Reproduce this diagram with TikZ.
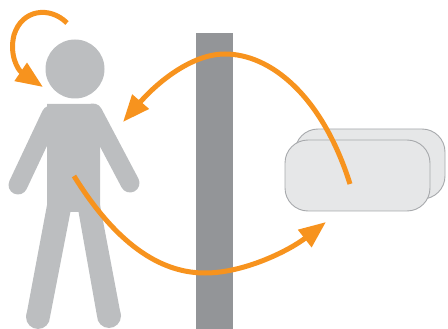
\documentclass[tikz,border=0pt]{standalone}
\usepackage{tikz}
\usetikzlibrary{
    arrows.meta,
    positioning
}

\definecolor{figgray}{HTML}{BCBEC0}
\definecolor{bargray}{HTML}{939598}
\definecolor{panelfill}{HTML}{E6E7E8}
\definecolor{paneledge}{HTML}{A7A9AC}
\definecolor{flow}{HTML}{F7931E}

\begin{document}
\begin{tikzpicture}[
    x=1pt,
    y=-1pt,
    >={Triangle[length=27pt,width=21pt]},
    figure/.style={fill=figgray, draw=none},
    limb/.style={draw=figgray, line cap=round},
    panel/.style={
        draw=paneledge,
        fill=panelfill,
        line width=0.9pt,
        rounded corners=23pt,
        inner sep=0pt
    },
    arrow/.style={->, draw=flow, line width=5pt}
]

\useasboundingbox (0,0) rectangle (448,329);

% ============================================================
% WALL AND HEADSET
% ============================================================

\node[fill=bargray, inner sep=0pt, minimum width=37pt, minimum height=296pt] (wall) at (214.5,181.5) {};

\node[panel, minimum width=150pt, minimum height=70pt] (back) at (370,164) {};
\node[panel, minimum width=145pt, minimum height=71pt] (front) at (357.5,175.5) {};

% ============================================================
% PERSON
% ============================================================

\node[figure, circle, inner sep=0pt, minimum size=59pt] (head) at (75,69) {};

\fill[figure] (47,104) -- (92,104) -- (100,112) -- (100,212) -- (47,212) -- cycle;
\draw[limb, line width=19pt] (51,115) -- (18,185);
\draw[limb, line width=19pt] (93,113) -- (130,183);
\fill[figure] (47,205) -- (71,209) -- (50,317) -- (26,317) -- cycle;
\fill[figure] (78,209) -- (100,205) -- (121,316) -- (97,316) -- cycle;
\fill[figure] (47,200) rectangle (100,209);
\fill[figure] (38,317) circle (12);
\fill[figure] (109,316) circle (12);

% ============================================================
% ARROWS
% ============================================================

\coordinate (spinstart) at (67,23);
\coordinate (spintip) at (43,87);
\coordinate (backstart) at (350,184);
\coordinate (backtip) at (123,122);
\coordinate (outstart) at (74,176);
\coordinate (outtip) at (326,222);

\draw[arrow] (spinstart) .. controls (50,6) and (22,9) .. (14,35)
    .. controls (9,55) and (18,70) .. (spintip);
\draw[arrow] (backstart) .. controls (322,95) and (270,54) .. (225,54)
    .. controls (190,54) and (155,85) .. (backtip);
\draw[arrow] (outstart) .. controls (120,250) and (165,273) .. (205,273)
    .. controls (245,273) and (290,250) .. (outtip);

\end{tikzpicture}
\end{document}
